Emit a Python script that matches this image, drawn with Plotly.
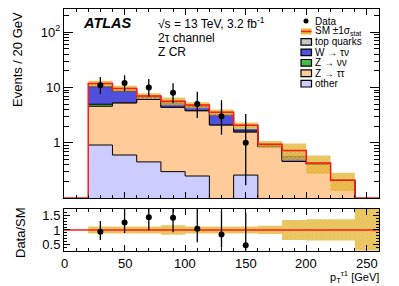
import numpy as np
import plotly.graph_objects as go

# page is shown at a 8px body offset -> figure is sized/positioned to compensate
OFF = 8
W, H = 399 - OFF, 286 - OFF

# ---------------- data ----------------
edges = [20, 40, 60, 80, 100, 120, 140, 160, 180, 200, 220, 240, 260]
other    = [0.91, 0.60, 0.45, 0.30, 0.25, 0.00, 0.26, 0.00, 0.00, 0.00, 0.00, 0.00]
z_tautau = [3.66, 4.67, 5.65, 4.10, 3.55, 2.10, 1.31, 0.85, 0.46, 0.41, 0.21, 0.00]
z_nunu   = [0.40, 0.00, 0.00, 0.00, 0.00, 0.00, 0.00, 0.00, 0.00, 0.00, 0.00, 0.00]
w_taunu  = [5.40, 3.33, 0.60, 0.85, 0.70, 1.10, 0.13, 0.03, 0.10, 0.01, 0.00, 0.00]
top_q    = [1.40, 1.00, 0.30, 0.40, 0.30, 0.35, 0.38, 0.06, 0.16, 0.01, 0.00, 0.00]
sm_relerr = [0.12, 0.12, 0.12, 0.16, 0.12, 0.12, 0.12, 0.14, 0.34, 0.36, 0.36, 0.00]

data_x      = [30, 50, 70, 90, 110, 130, 150]
data_y      = [11, 12, 10, 8, 5, 3, 1]
data_err_lo = [3.3, 3.4, 3.1, 2.8, 2.2, 1.6, 0.83]
data_err_hi = [4.4, 4.6, 4.3, 3.9, 3.4, 2.9, 2.3]

x_ticks = [0, 50, 100, 150, 200, 250]
y_ticks = [1, 10, 100]
y_ticktext = ["1", "10", "10<sup>2</sup>"]
r_ticks = [0.5, 1, 1.5]

# ---------------- derived ----------------
edges = np.array(edges, float)
layers = [("other", other, "#ccccff"),
          ("Z → ττ", z_tautau, "#ffcc99"),
          ("Z → νν", z_nunu, "#44bb44"),
          ("W → τν", w_taunu, "#5050dc"),
          ("top quarks", top_q, "#c8c8c8")]
total = np.sum([np.array(v) for _, v, _ in layers], axis=0)
YR = [-1, 2.42]
floor = 1e-3

def step(vals):
    v = list(vals)
    return list(edges), v + [v[-1]]

fig = go.Figure()
FONT = "Liberation Sans, Arial, Helvetica, sans-serif"

# baseline
xs, ys = step(np.full(len(total), floor))
fig.add_trace(go.Scatter(x=xs, y=ys, mode="lines", line=dict(width=0, shape="hv"),
                         showlegend=False, hoverinfo="skip", xaxis="x", yaxis="y"))
cum = np.zeros(len(total))
for name, vals, col in layers:
    cum = cum + np.array(vals)
    xs, ys = step(np.maximum(cum, floor))
    fig.add_trace(go.Scatter(x=xs, y=ys, mode="lines", fill="tonexty", fillcolor=col,
                             line=dict(color="black", width=1, shape="hv"),
                             name=name, showlegend=False, xaxis="x", yaxis="y"))

# SM band
pat = dict(shape="x", fgcolor="#f7dc6a", bgcolor="rgba(222,170,35,0.72)", size=3, solidity=0.45)
lo = np.where(total > 0, total * (1 - np.array(sm_relerr)), floor)
hi = np.where(total > 0, total * (1 + np.array(sm_relerr)), floor)
xs, ys = step(np.maximum(lo, floor))
fig.add_trace(go.Scatter(x=xs, y=ys, mode="lines", line=dict(width=0, shape="hv"),
                         showlegend=False, xaxis="x", yaxis="y"))
xs, ys = step(np.maximum(hi, floor))
fig.add_trace(go.Scatter(x=xs, y=ys, mode="lines", line=dict(width=0, shape="hv"),
                         fill="tonexty", fillcolor="rgba(0,0,0,0)", fillpattern=pat,
                         showlegend=False, xaxis="x", yaxis="y"))
# total red line (from 0)
tot_edges = [0.0] + list(edges)
tot_vals = [0.0] + list(total)
tv = list(np.maximum(tot_vals, 10 ** YR[0]))
fig.add_trace(go.Scatter(x=tot_edges, y=tv + [tv[-1]], mode="lines",
                         line=dict(color="#ff1a1a", width=1.5, shape="hv"),
                         showlegend=False, xaxis="x", yaxis="y"))
# data
fig.add_trace(go.Scatter(x=data_x, y=data_y, mode="markers",
                         marker=dict(color="black", size=6),
                         error_y=dict(type="data", symmetric=False, array=data_err_hi,
                                      arrayminus=data_err_lo, color="black", thickness=1.3, width=0),
                         showlegend=False, xaxis="x", yaxis="y"))

# ---------------- ratio ----------------
rel = np.array(sm_relerr)
r_lo = np.where(total > 0, 1 - rel, 0.0)
r_hi = np.where(total > 0, 1 + rel, 2.0)
xs, ys = step(r_lo)
fig.add_trace(go.Scatter(x=xs, y=ys, mode="lines", line=dict(width=0, shape="hv"),
                         showlegend=False, xaxis="x2", yaxis="y2"))
xs, ys = step(r_hi)
fig.add_trace(go.Scatter(x=xs, y=ys, mode="lines", line=dict(width=0, shape="hv"),
                         fill="tonexty", fillcolor="rgba(0,0,0,0)", fillpattern=pat,
                         showlegend=False, xaxis="x2", yaxis="y2"))
fig.add_trace(go.Scatter(x=[0, 260], y=[1, 1], mode="lines",
                         line=dict(color="#ff1a1a", width=1.5),
                         showlegend=False, xaxis="x2", yaxis="y2"))
tot_at = np.array([total[int((x - 20) // 20)] for x in data_x])
ratio = np.array(data_y) / tot_at
fig.add_trace(go.Scatter(x=data_x, y=ratio, mode="markers",
                         marker=dict(color="black", size=6),
                         error_y=dict(type="data", symmetric=False,
                                      array=np.array(data_err_hi) / tot_at,
                                      arrayminus=np.array(data_err_lo) / tot_at,
                                      color="black", thickness=1.3, width=0),
                         showlegend=False, xaxis="x2", yaxis="y2", cliponaxis=True))

# ---------------- layout ----------------
def px(x): return (x - OFF) / W
def py(y): return 1 - (y - OFF) / H

xdom = [px(64), px(379)]
axis_common = dict(showline=True, linecolor="black", linewidth=1, mirror="allticks",
                   ticks="inside", tickcolor="black", showgrid=False, zeroline=False,
                   automargin=False,
                   tickfont=dict(family=FONT, size=13, color="black"))
minor_x = dict(ticks="inside", tickvals=[v for v in range(0, 261, 10) if v % 50], ticklen=3,
               tickcolor="black")
fig.update_layout(
    width=W, height=H, autosize=False, margin=dict(l=0, r=0, t=0, b=0),
    plot_bgcolor="white", paper_bgcolor="white", showlegend=False,
    xaxis=dict(domain=xdom, range=[0, 260], anchor="y", tickvals=x_ticks, ticklen=6,
               showticklabels=False, minor=minor_x, **axis_common),
    yaxis=dict(domain=[py(198), py(9)], type="log", range=YR, anchor="x",
               tickvals=y_ticks, ticktext=y_ticktext, ticklen=9,
               minor=dict(ticks="inside", ticklen=5, tickcolor="black",
                          tickvals=[m * 10 ** e for e in (-1, 0, 1, 2) for m in range(2, 10)]),
               **axis_common),
    xaxis2=dict(domain=xdom, range=[0, 260], anchor="y2", tickvals=x_ticks,
                showticklabels=False, ticklen=6, minor=minor_x, **axis_common),
    yaxis2=dict(domain=[py(250.5), py(208.5)], range=[0.3, 1.73], anchor="x2",
                tickvals=r_ticks, ticktext=["0.5", "1", "1.5"], ticklen=6,
                minor=dict(ticks="inside", ticklen=3, tickcolor="black",
                           tickvals=[round(0.3 + 0.1 * i, 1) for i in range(15)]),
                **axis_common),
)

ann = []
def text(x, y, s, size=11, anchor="left", angle=0):
    ann.append(dict(x=px(x), y=py(y), xref="paper", yref="paper", text=s, showarrow=False,
                    xanchor=anchor, yanchor="middle", textangle=angle,
                    font=dict(family=FONT, size=size, color="black")))

# x tick labels of the ratio panel, positioned through the x2 axis scale
for v in x_ticks:
    ann.append(dict(x=v, xref="x2", y=py(263), yref="paper", text=str(v), showarrow=False,
                    xanchor="center", yanchor="middle",
                    font=dict(family=FONT, size=13, color="black")))

text(80.5, 23, "<b><i>ATLAS</i></b>", size=14.5)
text(156, 23, "√s = 13 TeV, 3.2 fb<sup>-1</sup>", size=12)
text(156, 38.5, "2τ channel", size=12)
text(156, 51.5, "Z CR", size=12)
text(18, 60, "Events / 20 GeV", size=13, anchor="center", angle=-90)
text(20, 233, "Data/SM", size=13, anchor="center", angle=-90)
ann.append(dict(x=px(380), y=py(286), xref="paper", yref="paper",
                text="p<sub>T</sub><sup>τ1</sup> [GeV]", showarrow=False,
                xanchor="right", yanchor="bottom", borderpad=0,
                font=dict(family=FONT, size=11, color="black")))

shapes = []
# legend
lx0, lx1, tx = 301, 311.5, 313
leg_rows = [("Data", None), ("SM ±1σ<sub>stat</sub>", "band"),
            ("top quarks", "#c8c8c8"), ("W → τν", "#5050dc"),
            ("Z → νν", "#44bb44"), ("Z → ττ", "#ffcc99"), ("other", "#ccccff")]
for i, (lab, col) in enumerate(leg_rows):
    yc = 21 + 10.45 * i
    text(tx, yc, lab, size=10)
    if col is None:
        shapes.append(dict(type="circle", xref="paper", yref="paper",
                           x0=px(306 - 2.5), x1=px(306 + 2.5), y0=py(yc + 2.5), y1=py(yc - 2.5),
                           fillcolor="black", line=dict(color="black", width=0)))
    elif col == "band":
        shapes.append(dict(type="rect", xref="paper", yref="paper",
                           x0=px(lx0), x1=px(lx1), y0=py(yc + 3), y1=py(yc - 3),
                           fillcolor="rgb(230,185,60)", line=dict(width=0)))
        shapes.append(dict(type="line", xref="paper", yref="paper",
                           x0=px(lx0), x1=px(lx1), y0=py(yc), y1=py(yc),
                           line=dict(color="#ff1a1a", width=1.5)))
    else:
        shapes.append(dict(type="rect", xref="paper", yref="paper",
                           x0=px(lx0), x1=px(lx1), y0=py(yc + 3.3), y1=py(yc - 3.3),
                           fillcolor=col, line=dict(color="black", width=1.2)))

fig.update_layout(annotations=ann, shapes=shapes)
fig.write_html("out.html")
